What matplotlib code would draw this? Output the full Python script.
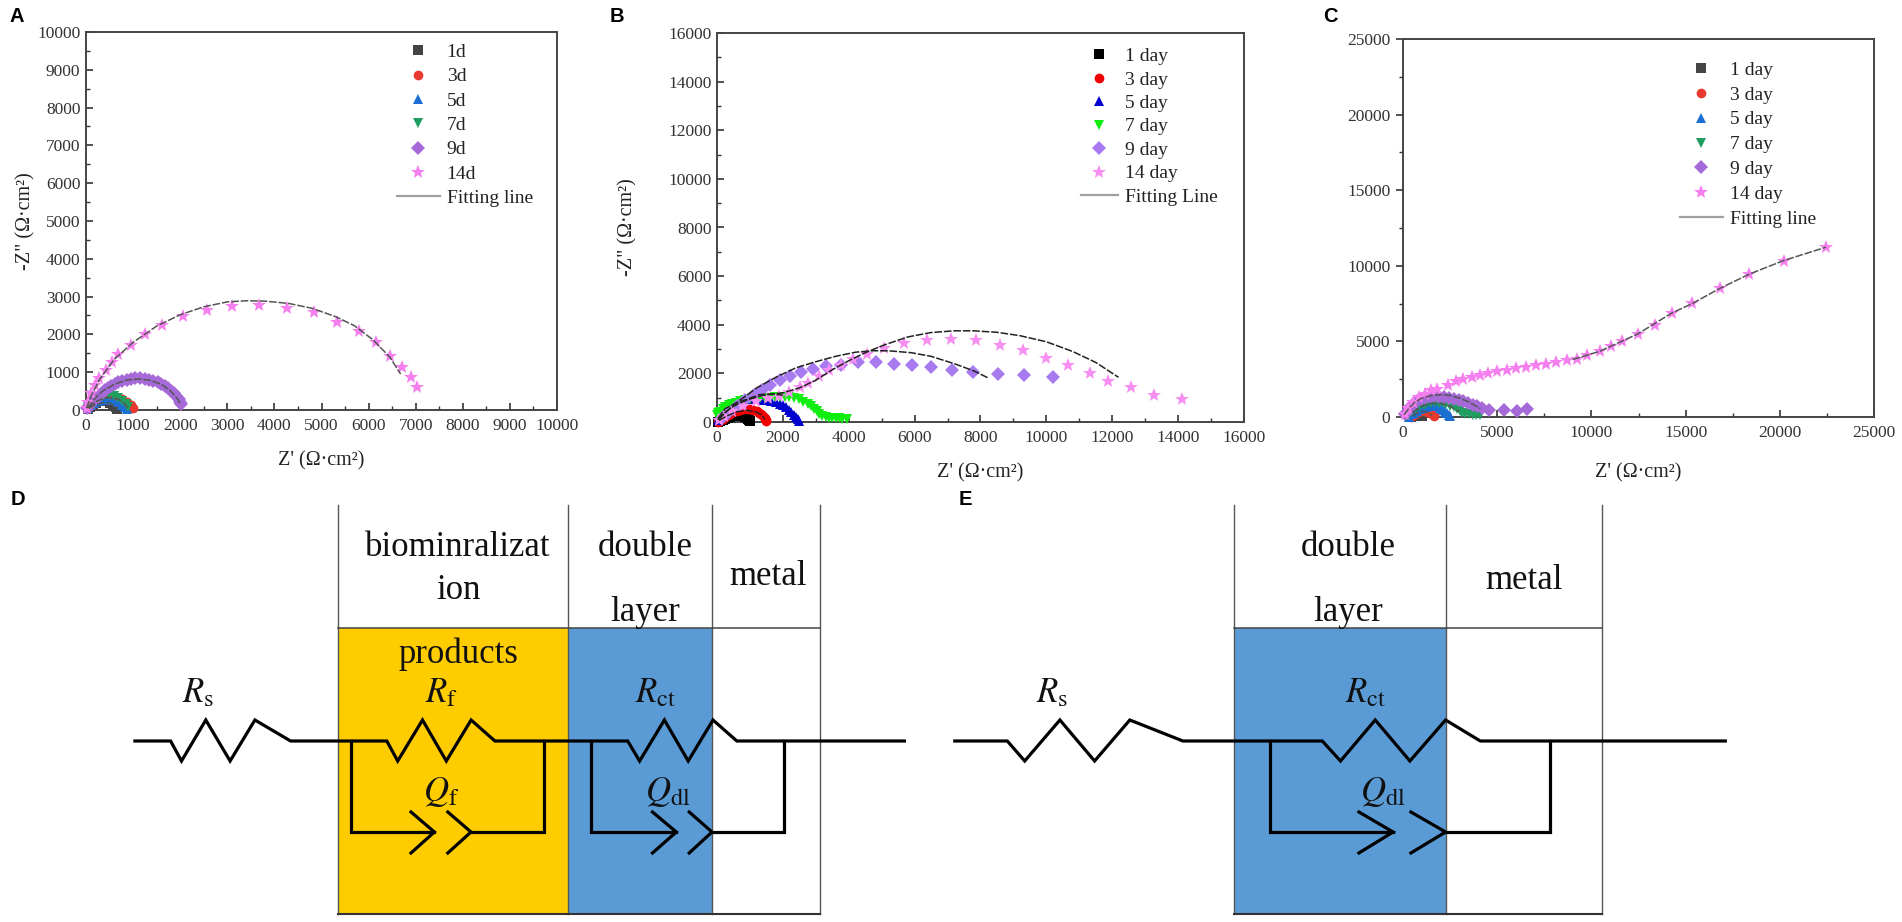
import matplotlib
matplotlib.use("Agg")
import matplotlib.pyplot as plt
from matplotlib.patches import Rectangle

plt.rcParams['font.family'] = ['Liberation Serif', 'DejaVu Sans']
plt.rcParams['mathtext.fontset'] = 'stix'

W, H = 1902, 922

# ---------- Panel A (value pairs) ----------
A_1D = [(40,30),(90,90),(150,150),(220,195),(300,225),(380,235),(450,225),(520,190),(580,140),(630,80),(660,30)]
A_3D = [(50,40),(120,130),(200,210),(300,275),(400,320),(520,335),(640,320),(760,280),(860,210),(950,120),(1000,40)]
A_5D = [(40,40),(100,120),(170,190),(260,240),(360,270),(470,280),(580,260),(680,210),(760,140),(830,70),(860,20)]
A_7D = [(50,70),(110,160),(180,240),(270,320),(370,370),(480,385),(590,370),(690,320),(770,250),(840,160),(890,70)]
A_9D = [(20,40),(50,90),(80,140),(115,190),(155,240),(200,290),(250,345),(300,400),(355,465),(410,525),(470,585),(540,640),(610,690),(690,735),(770,775),(860,805),(950,825),(1050,835),(1150,835),(1250,825),(1340,805),(1430,780),(1520,740),(1600,695),(1680,640),(1750,580),(1810,510),(1870,440),(1920,360),(1965,285),(2000,215),(2025,150)]
A_14D = [(15,45),(40,220),(105,440),(190,660),(285,855),(430,1057),(550,1260),(690,1470),(960,1720),(1245,2000),(1620,2245),(2055,2485),(2560,2645),(3105,2760),(3680,2775),(4270,2710),(4840,2580),(5325,2335),(5790,2090),(6150,1790),(6450,1436),(6700,1145),(6890,880),(7030,600)]
A_FIT_14D = [(10,50),(100,350),(300,830),(600,1340),(1000,1790),(1500,2220),(2000,2520),(2500,2730),(3000,2860),(3400,2890),(3800,2880),(4300,2820),(4800,2690),(5300,2470),(5700,2230),(6100,1850),(6450,1400),(6680,950)]
A_FIT_9D = [(30,50),(150,250),(350,500),(600,680),(850,790),(1100,820),(1350,790),(1600,680),(1800,500),(1950,280),(2010,150)]
A_FIT_7D = [(60,60),(200,220),(400,320),(520,330),(700,280),(830,160),(880,60)]
A_FIT_1D = [(60,40),(180,130),(350,190),(480,190),(590,120),(650,40)]

# ---------- Panel B ----------
B_1D = [(30,20),(100,50),(180,90),(250,130),(330,180),(400,220),(480,260),(550,280),(630,285),(700,280),(780,255),(850,225),(910,170),(950,120),(980,70),(1000,30)]
B_3D = [(40,20),(100,70),(180,140),(250,200),(330,270),(400,330),(500,400),(600,460),(700,500),(800,525),(900,535),(1000,530),(1100,500),(1200,450),(1280,390),(1350,320),(1410,240),(1450,170),(1480,100),(1500,40)]
B_5D = [(20,80),(80,250),(140,370),(200,460),(280,550),(350,630),(450,710),(550,780),(670,850),(800,900),(950,940),(1100,950),(1250,945),(1400,920),(1520,895),(1650,860),(1780,810),(1900,760),(2000,680),(2100,600),(2180,490),(2250,400),(2330,300),(2400,200),(2450,120),(2500,50)]
B_7D = [(0,300),(40,350),(100,430),(170,520),(250,600),(350,680),(450,750),(570,800),(700,850),(850,890),(1000,930),(1150,960),(1300,985),(1450,1000),(1600,1005),(1750,1030),(1900,1040),(2050,1040),(2200,1030),(2350,985),(2500,930),(2620,840),(2750,750),(2850,650),(2950,550),(3030,440),(3100,330),(3200,240),(3300,200),(3400,180),(3500,170),(3600,160),(3700,150),(3800,140),(3950,130)]
B_9D = [(150,165),(345,370),(600,645),(855,920),(1110,1125),(1370,1330),(1620,1535),(1900,1715),(2210,1880),(2540,2060),(2900,2195),(3310,2290),(3770,2360),(4295,2455),(4830,2455),(5370,2400),(5930,2330),(6500,2250),(7120,2150),(7760,2060),(8525,1990),(9330,1920),(10200,1850)]
B_14D = [(60,70),(220,230),(470,440),(790,670),(1175,850),(1560,990),(1880,1085),(2200,1220),(2520,1440),(2770,1605),(3090,1880),(3410,2126),(3760,2360),(4115,2590),(4540,2812),(5070,3045),(5690,3250),(6380,3360),(7090,3415),(7860,3360),(8590,3182),(9300,2950),(9980,2634),(10660,2332),(11320,2016),(11870,1673),(12560,1427),(13265,1125),(14120,945)]
B_FIT_14D = [(20,100),(200,350),(500,650),(900,900),(1400,1100),(2000,1200),(2500,1400),(3000,1720),(3500,2150),(4000,2520),(4500,2850),(5100,3180),(5800,3500),(6500,3680),(7200,3750),(7800,3750),(8500,3690),(9200,3550),(10000,3300),(10800,2900),(11500,2450),(12190,1838)]
B_FIT_9D = [(50,100),(300,450),(700,900),(1200,1400),(1800,1850),(2400,2230),(3000,2480),(3600,2700),(4200,2870),(4700,2930),(5200,2930),(5900,2850),(6500,2700),(7200,2400),(7800,2100),(8250,1800)]
B_FIT_5D = [(30,150),(250,550),(600,800),(1000,980),(1300,1130),(1700,1150),(2000,1100)]
B_FIT_3D = [(60,60),(300,250),(600,420),(900,480),(1150,430),(1350,300),(1450,120)]

# ---------- Panel C ----------
C_1D = [(400,20),(500,80),(600,150),(700,190),(800,200),(880,170),(950,110),(1000,50)]
C_3D = [(450,30),(550,120),(650,220),(750,310),(850,380),(950,420),(1050,430),(1150,420),(1250,400),(1350,350),(1450,270),(1550,190),(1620,110),(1650,50)]
C_5D = [(300,30),(450,170),(600,290),(750,400),(900,530),(1050,620),(1200,690),(1350,730),(1500,750),(1650,745),(1800,710),(1950,620),(2050,550),(2150,470),(2250,350),(2350,240),(2430,140),(2500,50)]
C_7D = [(200,60),(330,220),(500,380),(700,550),(900,700),(1100,810),(1300,900),(1500,950),(1700,960),(1900,950),(2100,900),(2300,850),(2500,760),(2700,650),(2850,520),(3000,400),(3150,290),(3300,200),(3500,170),(3700,150),(3900,140),(4100,130)]
C_9D = [(100,180),(200,330),(320,520),(450,700),(600,880),(750,1035),(950,1160),(1160,1255),(1420,1320),(1670,1365),(1930,1350),(2180,1320),(2430,1270),(2690,1210),(2950,1120),(3200,1035),(3450,930),(3700,815),(3940,700),(4180,595),(4580,485),(5340,440),(6070,375),(6560,550)]
C_14D = [(80,220),(285,595),(550,990),(860,1320),(1160,1540),(1470,1760),(1830,1870),(2380,2140),(2790,2360),(3200,2510),(3650,2640),(4075,2800),(4520,2910),(5010,3020),(5500,3130),(5990,3215),(6520,3300),(7070,3410),(7580,3520),(8130,3610),(8700,3740),(9250,3850),(9760,4120),(10430,4340),(11040,4670),(11650,5040),(12470,5500),(13390,6100),(14260,6870),(15360,7510),(16810,8500),(18380,9450),(20210,10350),(22450,11230)]
C_FIT_14D = [(9000,3800),(10430,4340),(12470,5500),(14260,6870),(15360,7510),(16810,8500),(18380,9450),(20210,10350),(22450,11230)]
C_FIT_9D = [(50,150),(300,550),(600,950),(1000,1250),(1500,1420),(2000,1480),(2500,1430),(3000,1250),(3500,1000),(4100,560)]
C_FIT_7D = [(500,300),(1000,720),(1500,900),(2000,900),(2500,700),(3000,350)]
C_FIT_3D = [(500,60),(800,300),(1100,380),(1350,280),(1550,80)]

# ---------- Legends and ticks ----------
LABELS_A = ['1d', '3d', '5d', '7d', '9d', '14d', 'Fitting line']
LABELS_B = ['1 day', '3 day', '5 day', '7 day', '9 day', '14 day', 'Fitting Line']
LABELS_C = ['1 day', '3 day', '5 day', '7 day', '9 day', '14 day', 'Fitting line']
TICKS_A = list(range(0, 10001, 1000))
TICKS_B = list(range(0, 16001, 2000))
TICKS_C = list(range(0, 25001, 5000))
MARKERS = ['s', 'o', '^', 'v', 'D', '*']
COLORS_AC = ['#444444', '#e8392f', '#1b6fd2', '#1f9e60', '#a66ad8', '#f67ff0']
COLORS_B = ['#000000', '#f00000', '#0000d0', '#10ee10', '#a87af0', '#f78ff2']

# ---------- Schematics D and E (pixel layout) ----------
D_BOX_X = [338, 568, 712, 820]
E_BOX_X = [1234.4, 1445.6, 1602.3]
BOX_TOP, BOX_MID, BOX_BOTTOM = 505, 628, 914
YELLOW, BLUE = '#ffcc00', '#5b9bd5'

D_WIRE = [(134.9,741),(170.6,741),(181.5,761),(205.8,720),(230.1,761),(254.9,720),(290.6,741),(386.8,741),(397.7,761),(422.5,720),(446.3,761),(471.1,720),(494.9,741),(627.7,741),(639.6,761),(664.4,720),(688.2,761),(713,720),(736.8,741),(904.4,741)]
D_Q1 = [(351,741),(351,832),(434.4,832)]
D_Q1_C1 = [(411,812),(434.4,832),(411,853)]
D_Q1_C2 = [(447.8,812),(471,832),(447.8,853)]
D_Q1_R = [(471,832),(543.5,832),(543.5,741)]
D_Q2 = [(591,741),(591,832),(676.3,832)]
D_Q2_C1 = [(652.5,812),(676.3,832),(652.5,853)]
D_Q2_C2 = [(689.2,812),(712,832),(689.2,853)]
D_Q2_R = [(712,832),(784.4,832),(784.4,741)]

E_WIRE = [(954.8,741),(1007.3,741),(1024.7,761),(1059.9,720),(1094.6,761),(1129.8,720),(1182.9,741),(1322.3,741),(1340.5,761),(1375.2,720),(1409.9,761),(1445.6,720),(1480.3,741),(1725.3,741)]
E_Q = [(1270.1,741),(1270.1,832),(1393.1,832)]
E_Q_C1 = [(1358.9,812),(1393.1,832),(1358.9,853)]
E_Q_C2 = [(1410.9,812),(1445.6,832),(1410.9,853)]
E_Q_R = [(1445.6,832),(1550.2,832),(1550.2,741)]

fig = plt.figure(figsize=(W / 100, H / 100), dpi=100, facecolor='white')


def make_axes(l, r, t, b):
    return fig.add_axes([l / W, 1 - b / H, (r - l) / W, (b - t) / H])


def unzip(p):
    return [v[0] for v in p], [v[1] for v in p]


def style(ax, ticks, ytick_dir, ylabel, xlabelpad, ylabelpad):
    lim = ticks[-1]
    ax.set_xlim(0, lim)
    ax.set_ylim(0, lim)
    ax.set_xticks(ticks)
    ax.set_yticks(ticks)
    step = ticks[1] - ticks[0]
    minor = [step / 2 + i * step for i in range(len(ticks) - 1)]
    ax.set_xticks(minor, minor=True)
    ax.set_yticks(minor, minor=True)
    ax.tick_params(axis='x', which='major', direction='in', length=5, width=1.2, color='#333333',
                   labelsize=12.5, labelcolor='#333333', pad=6)
    ax.tick_params(axis='x', which='minor', direction='in', length=3, width=1, color='#333333')
    ax.tick_params(axis='y', which='major', direction=ytick_dir, length=5, width=1.2, color='#333333',
                   labelsize=12.5, labelcolor='#333333', pad=4)
    ax.tick_params(axis='y', which='minor', direction=ytick_dir, length=3, width=1, color='#333333')
    for s in ax.spines.values():
        s.set_linewidth(1.4)
        s.set_color('#444444')
    ax.set_xlabel("Z' (Ω·cm²)", fontsize=14.5, color='#222222', labelpad=xlabelpad)
    if ylabel:
        ax.set_ylabel('-Z" (Ω·cm²)', fontsize=14.5, color='#222222', labelpad=ylabelpad)


def draw(ax, series, fits, colors, labels, sizes, legend_anchor, spacing, hlen, fitcolor):
    handles = []
    for pts, m, c, lab, ms in zip(series, MARKERS, colors, labels, sizes):
        x, y = unzip(pts)
        h, = ax.plot(x, y, ls='none', marker=m, color=c, ms=ms, mew=0, label=lab, clip_on=False, zorder=3)
        handles.append(h)
    for pts in fits:
        x, y = unzip(pts)
        ax.plot(x, y, color=fitcolor, lw=1.1, ls=(0, (5, 1.2)), zorder=4)
    line, = ax.plot([], [], color='#a0a0a0', lw=1.6, label=labels[-1])
    handles.append(line)
    leg = ax.legend(handles=handles, loc='upper left', bbox_to_anchor=legend_anchor,
                    bbox_transform=fig.transFigure, frameon=False, fontsize=14, numpoints=1,
                    labelspacing=spacing, handlelength=hlen, handletextpad=0.35, borderpad=0, borderaxespad=0)
    for t in leg.get_texts():
        t.set_color('#222222')


# Panel A
ax_a = make_axes(86, 557, 32, 410)
draw(ax_a, [A_1D, A_3D, A_5D, A_7D, A_9D, A_14D], [A_FIT_14D, A_FIT_9D, A_FIT_7D, A_FIT_1D],
     COLORS_AC, LABELS_A, [6.5, 7, 7.5, 7.5, 7.5, 10], (397 / W, 1 - 43.5 / H), 0.345, 2.2, '#555555')
style(ax_a, TICKS_A, 'in', True, 12, 1.5)

# Panel B
ax_b = make_axes(717, 1244, 33, 422)
draw(ax_b, [B_1D, B_3D, B_5D, B_7D, B_9D, B_14D], [B_FIT_14D, B_FIT_9D, B_FIT_5D, B_FIT_3D],
     COLORS_B, LABELS_B, [7, 7, 7.5, 7.5, 7.5, 10.5], (1081 / W, 1 - 47.5 / H), 0.30, 1.9, '#222222')
style(ax_b, TICKS_B, 'in', True, 12.5, 22)

# Panel C
ax_c = make_axes(1403, 1874, 39, 417)
draw(ax_c, [C_1D, C_3D, C_5D, C_7D, C_9D, C_14D], [C_FIT_14D, C_FIT_9D, C_FIT_7D, C_FIT_3D],
     COLORS_AC, LABELS_C, [6.5, 7, 7.5, 7.5, 7.5, 10.5], (1680 / W, 1 - 61 / H), 0.376, 2.2, '#555555')
style(ax_c, TICKS_C, 'out', False, 15.5, 5)

# Overlay in pixel coordinates for the schematics and panel letters
ov = fig.add_axes([0, 0, 1, 1], facecolor='none')
ov.set_xlim(0, W)
ov.set_ylim(H, 0)
ov.axis('off')

for x0, x1, c in [(D_BOX_X[0], D_BOX_X[1], YELLOW), (D_BOX_X[1], D_BOX_X[2], BLUE),
                  (E_BOX_X[0], E_BOX_X[1], BLUE)]:
    ov.add_patch(Rectangle((x0, BOX_MID), x1 - x0, BOX_BOTTOM - BOX_MID, fc=c, ec='none', zorder=1))

for xs in (D_BOX_X, E_BOX_X):
    for x in xs:
        ov.plot([x, x], [BOX_TOP, BOX_BOTTOM], color='#555555', lw=1.0, zorder=2)
    ov.plot([xs[0], xs[-1]], [BOX_MID, BOX_MID], color='#444444', lw=1.1, zorder=2)
    ov.plot([xs[0], xs[-1]], [BOX_BOTTOM, BOX_BOTTOM], color='#333333', lw=1.5, zorder=2)

for path in [D_WIRE, D_Q1, D_Q1_C1, D_Q1_C2, D_Q1_R, D_Q2, D_Q2_C1, D_Q2_C2, D_Q2_R,
             E_WIRE, E_Q, E_Q_C1, E_Q_C2, E_Q_R]:
    x, y = unzip(path)
    ov.plot(x, y, color='black', lw=2.3, solid_joinstyle='miter', zorder=3)

TXT = dict(ha='center', va='center', color='#111111', fontsize=25, zorder=4)
for x, y, s in [(458, 547, 'biominralizat'), (458, 590, 'ion'), (645.6, 547, 'double'), (645.6, 612, 'layer'),
                (768, 576, 'metal'), (458, 654, 'products'),
                (1348.5, 547, 'double'), (1348.5, 612, 'layer'), (1524, 580, 'metal')]:
    ov.text(x, y, s, **TXT)

for x, y, s in [(198, 694, r'$R_{\mathrm{s}}$'), (441, 694, r'$R_{\mathrm{f}}$'), (656, 694, r'$R_{\mathrm{ct}}$'),
                (441, 792, r'$Q_{\mathrm{f}}$'), (668, 792, r'$Q_{\mathrm{dl}}$'),
                (1052, 694, r'$R_{\mathrm{s}}$'), (1366, 694, r'$R_{\mathrm{ct}}$'), (1383, 792, r'$Q_{\mathrm{dl}}$')]:
    ov.text(x, y, s, **TXT)

for x, y, s in [(17, 16, 'A'), (617, 16, 'B'), (1330, 16, 'C'), (18, 499, 'D'), (965, 499, 'E')]:
    ov.text(x, y, s, ha='center', va='center', fontsize=14.5, fontweight='bold',
            family=['Liberation Sans', 'DejaVu Sans'], color='black')

fig.savefig('out.png', dpi=100, facecolor='white')
